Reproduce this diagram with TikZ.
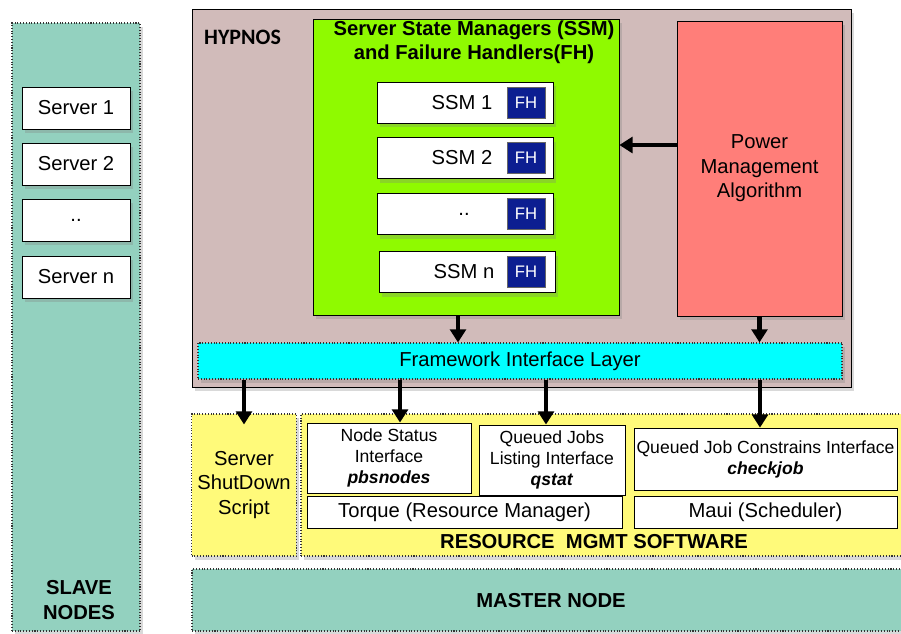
\documentclass[tikz,border=0pt]{standalone}
\usepackage{fontspec}
\setmainfont{Liberation Sans}
\newfontfamily\calfont{Carlito}
\usepackage{tikz}
\usetikzlibrary{positioning,shadows,arrows.meta}

\definecolor{slavegreen}{RGB}{147,209,191}
\definecolor{hypnosbg}{RGB}{209,187,186}
\definecolor{ssmgreen}{RGB}{143,250,0}
\definecolor{powerred}{RGB}{255,126,121}
\definecolor{fhblue}{RGB}{12,30,145}
\definecolor{rmyellow}{RGB}{255,250,122}
\definecolor{filcyan}{RGB}{0,255,255}

\begin{document}
\begin{tikzpicture}[
    txt/.style={font=\fontsize{11.5}{14}\selectfont},
    small/.style={font=\fontsize{10}{12}\selectfont},
    boxshadow/.style={drop shadow={opacity=0.3, shadow xshift=0.06cm, shadow yshift=-0.08cm}},
    panel/.style={rectangle, draw=black!80, densely dotted, line width=0.6pt, align=center},
    server/.style={rectangle, draw, fill=white, minimum width=2.16cm, minimum height=0.84cm, txt, boxshadow},
    ssmbox/.style={rectangle, draw, fill=white, minimum width=3.52cm, minimum height=0.82cm, boxshadow},
    fh/.style={rectangle, draw=black!60, fill=fhblue, text=white, minimum width=0.76cm, minimum height=0.62cm, font=\fontsize{9.5}{11}\selectfont},
    iface/.style={rectangle, draw, fill=white, align=center, small},
    arr/.style={-{Triangle[width=9pt,length=7.5pt]}, line width=2.8pt}
]
    \useasboundingbox (0,0) rectangle (18.02,-12.66);

    % Slave nodes
    \node[panel, fill=slavegreen, minimum width=2.56cm, minimum height=12.16cm, boxshadow] (slave) at (1.52,-6.54) {};
    \node[txt, font=\fontsize{11.5}{14}\selectfont\bfseries, align=center] (slavetxt) at (1.58,-12.0) {SLAVE\\NODES};
    \node[server] (srv1) at (1.52,-2.16) {Server 1};
    \node[server] (srv2) at (1.52,-3.28) {Server 2};
    \node[server] (srv3) at (1.52,-4.40) {..};
    \node[server] (srvn) at (1.52,-5.54) {Server n};

    % Hypnos
    \node[rectangle, draw, fill=hypnosbg, minimum width=13.18cm, minimum height=7.56cm, boxshadow] (hypnos) at (10.43,-3.96) {};
    \node[anchor=west, font=\fontsize{12.5}{14}\selectfont\calfont\bfseries] (hyplabel) at (3.96,-0.74) {HYPNOS};

    % Server state managers
    \node[rectangle, draw, fill=ssmgreen, minimum width=6.12cm, minimum height=5.92cm, boxshadow] (ssm) at (9.32,-3.34) {};
    \node[font=\fontsize{11.5}{13.6}\selectfont\bfseries, align=center] (ssmtitle) at (9.48,-0.84) {Server State Managers (SSM)\\and Failure Handlers(FH)};
    \node[ssmbox] (s1) at (9.30,-2.05) {};
    \node[ssmbox] (s2) at (9.30,-3.16) {};
    \node[ssmbox] (s3) at (9.30,-4.28) {};
    \node[ssmbox] (sn) at (9.34,-5.44) {};
    \node[fh] (fh1) at (10.52,-2.05) {FH};
    \node[fh] (fh2) at (10.52,-3.16) {FH};
    \node[fh] (fh3) at (10.52,-4.28) {FH};
    \node[fh] (fhn) at (10.52,-5.44) {FH};
    \node[txt, inner sep=0, left=0.28cm of fh1] (t1) {SSM 1};
    \node[txt, inner sep=0, left=0.28cm of fh2] (t2) {SSM 2};
    \node[txt] (t3) at (9.28,-4.28) {..};
    \node[txt, inner sep=0, left=0.24cm of fhn] (tn) {SSM n};

    % Power management
    \node[rectangle, draw, fill=powerred, minimum width=3.30cm, minimum height=5.90cm, align=center, txt, boxshadow] (power) at (15.19,-3.37) {Power\\Management\\Algorithm};

    % Framework interface layer
    \node[panel, fill=filcyan, minimum width=12.88cm, minimum height=0.72cm, txt, boxshadow] (fil) at (10.40,-7.22) {Framework Interface Layer};

    % Resource management
    \node[panel, fill=rmyellow, minimum width=2.08cm, minimum height=2.84cm, txt, boxshadow] (shut) at (4.88,-9.70) {Server\\ShutDown\\Script};
    \node[panel, fill=rmyellow, minimum width=12.18cm, minimum height=2.84cm, boxshadow] (rm) at (12.11,-9.70) {};
    \node[iface, minimum width=3.28cm, minimum height=1.28cm] (nstat) at (7.78,-9.16) {Node Status\\Interface\\\textbf{\textit{pbsnodes}}};
    \node[iface, minimum width=2.92cm, minimum height=1.32cm] (qlist) at (11.04,-9.20) {Queued Jobs\\Listing Interface\\\textbf{\textit{qstat}}};
    \node[iface, minimum width=5.26cm, minimum height=1.24cm, inner xsep=0pt] (cons) at (15.31,-9.18) {Queued Job Constrains Interface\\\textbf{\textit{checkjob}}};
    \node[iface, minimum width=6.30cm, minimum height=0.64cm, txt] (torque) at (9.29,-10.24) {Torque (Resource Manager)};
    \node[iface, minimum width=5.26cm, minimum height=0.64cm, txt] (maui) at (15.31,-10.24) {Maui (Scheduler)};
    \node[font=\fontsize{11.5}{14}\selectfont\bfseries] (rmlabel) at (11.88,-10.84) {RESOURCE\ \ MGMT SOFTWARE};

    % Master node
    \node[panel, fill=slavegreen, minimum width=14.36cm, minimum height=1.24cm, boxshadow] (master) at (11.02,-12.0) {};
    \node[font=\fontsize{11.5}{14}\selectfont\bfseries] (mastertxt) at (11.02,-12.02) {MASTER NODE};

    % Connections
    \draw[arr] ([xshift=-0.16cm]ssm.south) -- ([xshift=-0.16cm]ssm.south |- fil.north);
    \draw[arr] (power.south) -- (power.south |- fil.north);
    \draw[arr] ([yshift=0.47cm]power.west) -- ([yshift=0.47cm]power.west -| ssm.east);
    \draw[arr] (shut.north |- fil.south) -- ([yshift=-0.22cm]shut.north);
    \draw[arr] ([xshift=0.22cm]nstat.north |- fil.south) -- ([xshift=0.22cm]nstat.north);
    \draw[arr] ([xshift=-0.12cm]qlist.north |- fil.south) -- ([xshift=-0.12cm]qlist.north);
    \draw[arr] ([xshift=-0.11cm]cons.north |- fil.south) -- ([xshift=-0.11cm]cons.north);
\end{tikzpicture}
\end{document}
